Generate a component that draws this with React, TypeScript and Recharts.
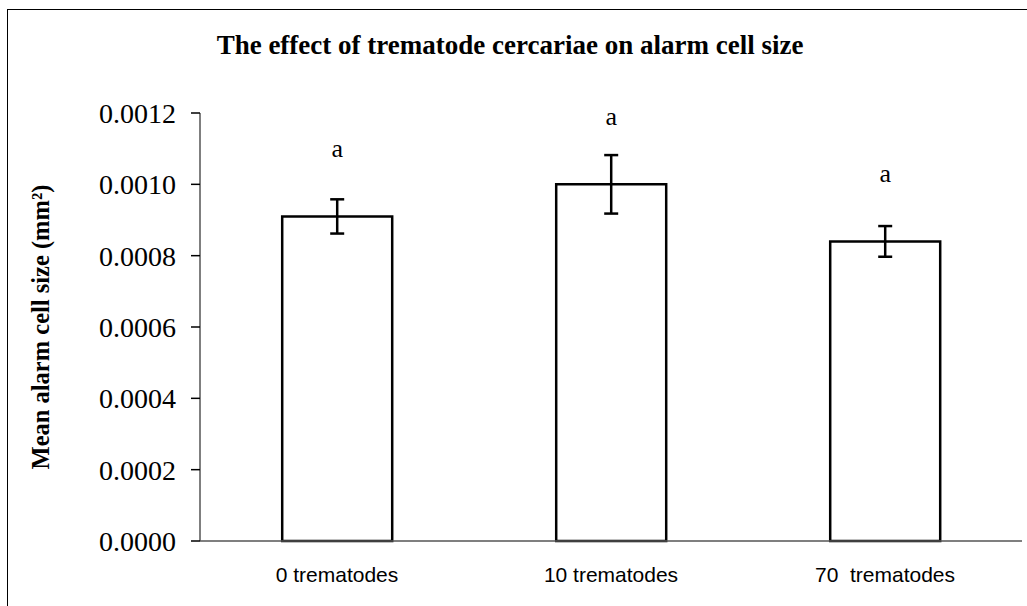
import React from "react";
import {
  BarChart,
  Bar,
  XAxis,
  YAxis,
  ErrorBar,
  LabelList,
} from "recharts";

const groups = ["0 trematodes", "10 trematodes", "70\u00a0 trematodes"];
const meanSize = [0.00091, 0.001, 0.00084];
const stdErr = [0.000048, 0.000082, 0.000043];
const letters = ["a", "a", "a"];
const yTicks = [0, 0.0002, 0.0004, 0.0006, 0.0008, 0.001, 0.0012];

const data = groups.map((g, i) => ({
  group: g,
  mean: meanSize[i],
  err: stdErr[i],
  letter: letters[i],
}));

const serif = '"Liberation Serif", "Times New Roman", serif';
const sans = '"Liberation Sans", Arial, sans-serif';

// letters sit a fixed distance above each bar top
const renderLetter = (props: any) => {
  const { x, y, width, value } = props;
  return (
    <text
      x={x + width / 2}
      y={y - 68}
      textAnchor="middle"
      dominantBaseline="central"
      fontFamily={serif}
      fontSize={26}
      fill="#000"
    >
      {value}
    </text>
  );
};

const App: React.FC = () => {
  return (
    <div
      style={{
        position: "absolute",
        left: 0,
        top: 0,
        width: 1027,
        height: 606,
        background: "#fff",
        overflow: "hidden",
      }}
    >
      <div
        style={{
          position: "absolute",
          left: 7,
          top: 9,
          width: 1030,
          height: 610,
          borderLeft: "1px solid #000",
          borderTop: "1px solid #000",
        }}
      />
      <div
        style={{
          position: "absolute",
          left: 0,
          top: 30,
          width: 1020,
          textAlign: "center",
          fontFamily: serif,
          fontWeight: "bold",
          fontSize: 27,
          color: "#000",
        }}
      >
        The effect of trematode cercariae on alarm cell size
      </div>
      <div style={{ position: "absolute", left: 0, top: 0 }}>
        <BarChart
          width={1027}
          height={606}
          data={data}
          margin={{ top: 113, right: 5, bottom: 25, left: 0 }}
          barCategoryGap="30%"
        >
          <XAxis
            dataKey="group"
            tickLine={false}
            axisLine={{ stroke: "#555", strokeWidth: 1.5 }}
            tick={{ fill: "#000", fontFamily: sans, fontSize: 21 }}
            tickMargin={20}
            height={40}
            interval={0}
          />
          <YAxis
            width={200}
            domain={[0, 0.0012]}
            ticks={yTicks}
            tickFormatter={(v: number) => v.toFixed(4)}
            axisLine={{ stroke: "#555", strokeWidth: 1.5 }}
            tickLine={{ stroke: "#000", strokeWidth: 1.5 }}
            tickSize={9}
            tickMargin={15}
            tick={{ fill: "#000", fontFamily: serif, fontSize: 28 }}
            interval={0}
            label={{
              value: "Mean alarm cell size (mm²)",
              angle: -90,
              position: "insideLeft",
              offset: 40,
              style: {
                textAnchor: "middle",
                fontFamily: serif,
                fontWeight: "bold",
                fontSize: 24.5,
                fill: "#000",
              },
            }}
          />
          <Bar
            dataKey="mean"
            fill="#fff"
            stroke="#000"
            strokeWidth={2.5}
            isAnimationActive={false}
          >
            <ErrorBar
              dataKey="err"
              width={7}
              stroke="#000"
              strokeWidth={2.5}
              direction="y"
            />
            <LabelList dataKey="letter" content={renderLetter} />
          </Bar>
        </BarChart>
      </div>
    </div>
  );
};

export default App;
